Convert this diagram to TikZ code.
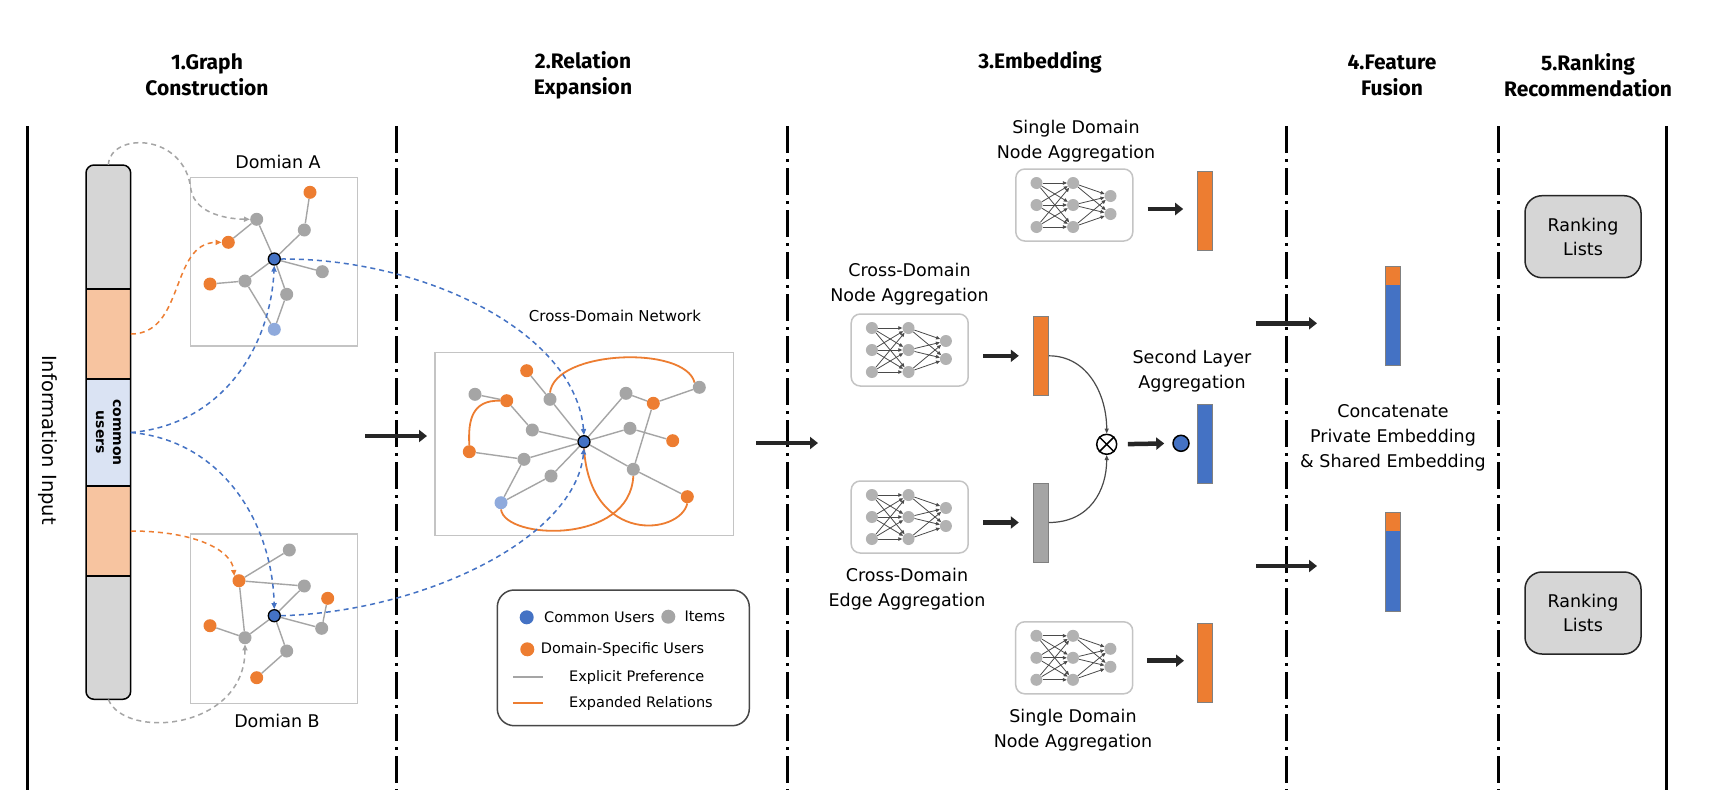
\documentclass[tikz,border=0pt]{standalone}
\usepackage{fontspec}
\setmainfont{DejaVu Sans}
\newfontfamily\titlefont{Fira Sans}
\usetikzlibrary{arrows.meta,backgrounds}
\definecolor{corange}{HTML}{ED7D31}
\definecolor{cgray}{HTML}{A5A5A5}
\definecolor{cblue}{HTML}{4472C4}
\definecolor{clblue}{HTML}{8FAADC}
\definecolor{cpeach}{HTML}{F7C4A0}
\definecolor{cpale}{HTML}{DAE3F3}
\definecolor{cbar}{HTML}{D6D6D6}
\definecolor{cframe}{HTML}{C4C4C4}
\definecolor{cdark}{HTML}{262626}
\definecolor{cnn}{HTML}{4A4A4A}
\tikzset{
 body/.style={font=\fontsize{17.5}{25}\selectfont, align=center, inner sep=0pt},
 ttl/.style={font=\titlefont\bfseries\fontsize{21}{26}\selectfont, align=center, inner sep=0pt},
 leg/.style={font=\fontsize{14.5}{17}\selectfont, anchor=west, inner sep=0pt},
 gn/.style={circle, fill=cgray, minimum size=13pt, inner sep=0pt},
 on/.style={gn, fill=corange},
 lbn/.style={gn, fill=clblue},
 bn/.style={circle, fill=cblue, draw=black, line width=1.3pt, minimum size=12pt, inner sep=0pt},
 ge/.style={draw=cgray, line width=1.4pt},
 oe/.style={draw=corange, line width=1.8pt},
 bdash/.style={draw=cblue, line width=1.5pt, dash pattern=on 5pt off 4pt, -{Triangle[length=6pt,width=5pt]}},
 odash/.style={bdash, draw=corange},
 gdash/.style={bdash, draw=cgray},
 divider/.style={line width=3pt, dash pattern=on 27pt off 6pt on 3pt off 6pt},
 wall/.style={line width=3pt},
 bigarrow/.style={draw=cdark, line width=4.5pt, -{Triangle[length=8pt,width=12pt]}},
 thinarrow/.style={draw=cnn, line width=1.2pt, -{Triangle[length=5pt,width=4pt]}},
 frame/.style={draw=cframe, line width=1.5pt, inner sep=0pt},
 vbar/.style={draw=gray, line width=1pt, minimum width=15pt, minimum height=79pt, inner sep=0pt},
 anchorbox/.style={rectangle, inner sep=0pt, minimum width=44.7pt},
 nnbox/.style={draw=cframe, line width=1.5pt, rounded corners=9pt, minimum width=117pt, minimum height=72pt, inner sep=0pt},
 nnnode/.style={circle, fill=cgray!85, minimum size=12pt, inner sep=0pt},
 nnedge/.style={draw=cnn, line width=0.8pt, -{Triangle[length=4pt,width=3.5pt]}},
 rankbox/.style={draw=cdark, fill=cbar, line width=1.5pt, rounded corners=17pt, minimum width=116pt, minimum height=82pt, align=center, inner sep=0pt, font=\fontsize{17.5}{24}\selectfont},
 nnicon/.pic={
  \node[nnbox] (-box) at (0,0) {};
  \node[nnnode] (-a1) at (-37.8,-22) {};
  \node[nnnode] (-a2) at (-37.8,0) {};
  \node[nnnode] (-a3) at (-37.8,22) {};
  \node[nnnode] (-b1) at (-1.2,-22) {};
  \node[nnnode] (-b2) at (-1.2,0) {};
  \node[nnnode] (-b3) at (-1.2,22) {};
  \node[nnnode] (-c1) at (36.2,-9) {};
  \node[nnnode] (-c2) at (36.2,9) {};
  \foreach \i in {1,2,3}{\foreach \j in {1,2,3}{\draw[nnedge] (-a\i) -- (-b\j);}}
  \foreach \i in {1,2,3}{\foreach \j in {1,2}{\draw[nnedge] (-b\i) -- (-c\j);}}
 }
}
\begin{document}
\begin{tikzpicture}[x=1pt,y=-1pt]
\useasboundingbox (0,0) rectangle (1721,809);
\begin{scope}[on background layer]
\fill[white] (0,0) rectangle (1721,809);
\end{scope}

% ---------- titles ----------
\node[ttl] (T1) at (207,75) {1.Graph\\Construction};
\node[ttl] (T2) at (583,75) {2.Relation\\Expansion};
\node[ttl] (T3) at (1040,62) {3.Embedding};
\node[ttl] (T4) at (1392,75) {4.Feature\\Fusion};
\node[ttl] (T5) at (1588,75) {5.Ranking\\Recommendation};

% ---------- separators ----------
\coordinate (w1a) at (27,126); \coordinate (w1b) at (27,790);
\coordinate (w2a) at (1666.7,126); \coordinate (w2b) at (1666.7,790);
\draw[wall] (w1a) -- (w1b);
\draw[wall] (w2a) -- (w2b);
\coordinate (d1a) at (396,126); \coordinate (d1b) at (396,790);
\coordinate (d2a) at (787,126); \coordinate (d2b) at (787,790);
\coordinate (d3a) at (1286.7,126); \coordinate (d3b) at (1286.7,790);
\coordinate (d4a) at (1498,126); \coordinate (d4b) at (1498,790);
\draw[divider] (d1a) -- (d1b);
\draw[divider] (d2a) -- (d2b);
\draw[divider] (d3a) -- (d3b);
\draw[divider] (d4a) -- (d4b);

% ---------- information input ----------
\node[rotate=-90, font=\fontsize{19.5}{22}\selectfont, inner sep=0pt] (info) at (48,440) {Information Input};

% ---------- input bar ----------
\fill[cbar, rounded corners=8pt] (86,165) rectangle (130.7,289);
\fill[cbar] (86,200) rectangle (130.7,289);
\fill[cbar, rounded corners=8pt] (86,576) rectangle (130.7,699.3);
\fill[cbar] (86,576) rectangle (130.7,650);
\fill[cpeach] (86,289) rectangle (130.7,379);
\fill[cpeach] (86,486) rectangle (130.7,576);
\fill[cpale] (86,379) rectangle (130.7,486);
\draw[line width=1.5pt, rounded corners=8pt] (86,165) rectangle (130.7,699.3);
\draw[line width=1.2pt] (86,289) -- (130.7,289) (86,379) -- (130.7,379) (86,486) -- (130.7,486) (86,576) -- (130.7,576);
\node[anchorbox, minimum height=124pt] (sGA) at (108.35,227) {};
\node[anchorbox, minimum height=90pt] (sOA) at (108.35,334) {};
\node[anchorbox, minimum height=107pt] (sCU) at (108.35,432.5) {};
\node[anchorbox, minimum height=90pt] (sOB) at (108.35,531) {};
\node[anchorbox, minimum height=123.3pt] (sGB) at (108.35,637.65) {};
\node[rotate=-90, align=center, inner sep=0pt, font=\bfseries\fontsize{14}{17}\selectfont] (cutext) at (sCU.center) {common\\users};

% ---------- Domain A ----------
\node[frame, minimum width=167pt, minimum height=168.7pt] (fA) at (274.2,261.65) {};
\node[body] (dA) at (278,162) {Domian A};
\node[gn] (a1) at (256.7,219.3) {};
\node[on] (a2) at (310,192.3) {};
\node[gn] (a3) at (304.3,230) {};
\node[on] (a4) at (228.3,242.3) {};
\node[bn] (a5) at (274.3,259) {};
\node[gn] (a6) at (322.3,271.7) {};
\node[on] (a7) at (210,284) {};
\node[gn] (a8) at (245,281) {};
\node[gn] (a9) at (286.7,294.3) {};
\node[lbn] (a10) at (274.3,329.3) {};
\begin{scope}[on background layer]
\draw[ge] (a1) -- (a4) (a1) -- (a5) (a2) -- (a3) (a3) -- (a5) (a5) -- (a6) (a5) -- (a8) (a8) -- (a7) (a8) -- (a10) (a5) -- (a9) (a9) -- (a10);
\end{scope}

% ---------- Domain B ----------
\node[frame, minimum width=167pt, minimum height=169.3pt] (fB) at (274.2,618.65) {};
\node[body] (dB) at (277,721) {Domian B};
\node[gn] (b1) at (289.3,550) {};
\node[on] (b2) at (239,580.7) {};
\node[gn] (b3) at (304.3,586) {};
\node[on] (b4) at (327.7,598.3) {};
\node[bn] (b5) at (274.3,615.7) {};
\node[gn] (b6) at (321.7,628.3) {};
\node[on] (b7) at (210,625.7) {};
\node[gn] (b8) at (245,637.7) {};
\node[gn] (b9) at (286.7,651) {};
\node[on] (b10) at (256.7,677.7) {};
\begin{scope}[on background layer]
\draw[ge] (b2) -- (b1) (b2) -- (b3) (b2) -- (b8) (b3) -- (b5) (b5) -- (b6) (b6) -- (b4) (b5) -- (b8) (b8) -- (b7) (b5) -- (b9) (b9) -- (b10);
\end{scope}

% ---------- input connectors ----------
\draw[gdash] (sGA.north) .. controls (110,132) and (185,132) .. (191,190) .. controls (196,215) and (230,219) .. (a1.west);
\draw[odash] (sOA.east) .. controls (185,334) and (170,243) .. (a4.west);
\draw[bdash] (sCU.east) .. controls (220,425) and (270,350) .. (a5.south);
\draw[bdash] (sCU.east) .. controls (220,440) and (272,520) .. (b5.north);
\draw[odash] (sOB.east) .. controls (195,531) and (232,550) .. (b2.north west);
\draw[gdash] (sGB.south) .. controls (125,740) and (245,730) .. (b8.south);

% ---------- stage arrows ----------
\coordinate (s12a) at (365,436); \coordinate (s12b) at (427,436);
\draw[bigarrow] (s12a) -- (s12b);
\coordinate (s23a) at (756,443); \coordinate (s23b) at (818,443);
\draw[bigarrow] (s23a) -- (s23b);

% ---------- cross-domain network ----------
\node[body, font=\fontsize{15}{20}\selectfont] (cdn) at (615,316) {Cross-Domain Network};
\node[frame, minimum width=298.3pt, minimum height=183.4pt] (netbox) at (584.2,444) {};
\node[on] (n1) at (526.7,370.7) {};
\node[gn] (n2) at (475,394.3) {};
\node[on] (n3) at (506.7,400.7) {};
\node[gn] (n4) at (550,399.3) {};
\node[gn] (n5) at (626,393.3) {};
\node[on] (n6) at (653.3,403.3) {};
\node[gn] (n7) at (699.3,387.3) {};
\node[gn] (n8) at (532.3,430) {};
\node[gn] (n9) at (630,428.3) {};
\node[on] (n10) at (672.7,440.7) {};
\node[bn] (nc) at (584,441.7) {};
\node[on] (n11) at (469.3,451.7) {};
\node[gn] (n12) at (524,459.3) {};
\node[gn] (n13) at (551,476) {};
\node[gn] (n14) at (633.3,469.3) {};
\node[lbn] (n15) at (501,502.7) {};
\node[on] (n16) at (687.3,496.7) {};
\begin{scope}[on background layer]
\draw[ge] (n2) -- (n3) (n1) -- (n4) (n4) -- (nc) (n3) -- (n8) (n8) -- (nc) (n5) -- (nc) (n5) -- (n6) (n6) -- (n7) (n9) -- (nc) (n9) -- (n10) (n11) -- (n12) (n12) -- (nc) (n12) -- (n15) (n15) -- (n13) (n13) -- (nc) (nc) -- (n14) (n14) -- (n6) (n14) -- (n16);
\draw[oe] (n3.west) .. controls (472,400) and (468,420) .. (n11.north);
\draw[oe] (n4.north) .. controls (555,350) and (685,345) .. (n7.north west);
\draw[oe] (n15.south) .. controls (505,540) and (630,545) .. (n14.south);
\draw[oe] (n16.south) .. controls (680,535) and (590,545) .. (nc.south);
\end{scope}
\draw[bdash] (a5.east) .. controls (420,258) and (575,330) .. (nc.north);
\draw[bdash] (b5.east) .. controls (420,612) and (575,540) .. (nc.south);

% ---------- legend ----------
\node[draw=cdark!85, line width=1.5pt, rounded corners=17pt, minimum width=252pt, minimum height=135.7pt, inner sep=0pt] (legbox) at (623.3,657.85) {};
\node[circle, fill=cblue, minimum size=14pt, inner sep=0pt] (lg1) at (526.7,617.3) {};
\node[leg] (lt1) at (544,617.3) {Common Users};
\node[gn, minimum size=14pt] (lg2) at (668.3,616.7) {};
\node[leg] (lt2) at (684.3,616.7) {Items};
\node[on, minimum size=14pt] (lg3) at (527.3,649.3) {};
\node[leg] (lt3) at (540.7,649.3) {Domain-Specific Users};
\coordinate (lgl1a) at (513.3,677.3); \coordinate (lgl1b) at (543.3,677.3);
\draw[ge, line width=2pt] (lgl1a) -- (lgl1b);
\node[leg] (lt4) at (569,677.3) {Explicit Preference};
\coordinate (lgl2a) at (513.3,703.3); \coordinate (lgl2b) at (543.3,703.3);
\draw[oe, line width=2pt] (lgl2a) -- (lgl2b);
\node[leg] (lt5) at (569,703.3) {Expanded Relations};

% ---------- embedding ----------
\node[body] (lsd1) at (1076,141.5) {Single Domain\\Node Aggregation};
\node[body] (lcn) at (909.5,284.5) {Cross-Domain\\Node Aggregation};
\node[body] (lsl) at (1192,371.5) {Second Layer\\Aggregation};
\node[body] (lce) at (907,589.5) {Cross-Domain\\Edge Aggregation};
\node[body] (lsd2) at (1073,730.5) {Single Domain\\Node Aggregation};

\pic (nnA) at (1074.3,205) {nnicon};
\pic (nnC) at (909.7,350) {nnicon};
\pic (nnE) at (909.7,517) {nnicon};
\pic (nnB) at (1074.2,657.8) {nnicon};

\node[vbar, fill=corange] (barA) at (1205.2,210.8) {};
\node[vbar, fill=corange] (barC) at (1040.8,355.8) {};
\node[vbar, fill=cgray] (barE) at (1040.8,522.5) {};
\node[vbar, fill=cblue] (barS) at (1205.2,443.8) {};
\node[vbar, fill=corange] (barB) at (1205,663.3) {};

\node[circle, draw=black, fill=white, line width=1.5pt, minimum size=20pt, inner sep=0pt] (ot) at (1106.7,444.3) {};
\draw[line width=1.5pt] (ot.45) -- (ot.225) (ot.135) -- (ot.-45);
\node[circle, draw=black, fill=cblue, line width=1.5pt, minimum size=16pt, inner sep=0pt] (bc) at (1181,443.3) {};

\draw[bigarrow, shorten <=14pt, shorten >=14pt] (nnA-box.east |- 0,209) -- (barA.west |- 0,209);
\draw[bigarrow, shorten <=14.5pt, shorten >=14pt] (nnC-box.east |- barC.west) -- (barC.west);
\draw[bigarrow, shorten <=14.5pt, shorten >=14pt] (nnE-box.east |- barE.west) -- (barE.west);
\draw[bigarrow, shorten <=14pt, shorten >=13pt] (nnB-box.east |- 0,660.7) -- (barB.west |- 0,660.7);
\draw[bigarrow, shorten <=10.5pt, shorten >=8pt] (ot.east) -- (bc.west);
\draw[thinarrow] (barC.east) .. controls (1088,355.8) and (1106.7,395) .. (ot.north);
\draw[thinarrow] (barE.east) .. controls (1090,522.5) and (1106.7,490) .. (ot.south);

% ---------- feature fusion ----------
\coordinate (f1a) at (1256,323.3); \coordinate (f1b) at (1317,323.3);
\draw[bigarrow] (f1a) -- (f1b);
\coordinate (f2a) at (1256,566); \coordinate (f2b) at (1317,566);
\draw[bigarrow] (f2a) -- (f2b);
\node[draw=gray, line width=1pt, fill=cblue, minimum width=14.6pt, minimum height=98.3pt, inner sep=0pt] (fb1) at (1393,315.85) {};
\fill[corange] (fb1.north west) rectangle ([yshift=-18.3pt]fb1.north east);
\draw[gray, line width=1pt] (fb1.north west) rectangle (fb1.south east);
\node[draw=gray, line width=1pt, fill=cblue, minimum width=14.6pt, minimum height=98.3pt, inner sep=0pt] (fb2) at (1393,561.85) {};
\fill[corange] (fb2.north west) rectangle ([yshift=-18.3pt]fb2.north east);
\draw[gray, line width=1pt] (fb2.north west) rectangle (fb2.south east);
\node[body] (lcat) at (1393,438) {Concatenate\\Private Embedding\\\& Shared Embedding};

% ---------- ranking ----------
\node[rankbox] (rk1) at (1583,236.7) {Ranking\\Lists};
\node[rankbox] (rk2) at (1583,613) {Ranking\\Lists};
\end{tikzpicture}
\end{document}
